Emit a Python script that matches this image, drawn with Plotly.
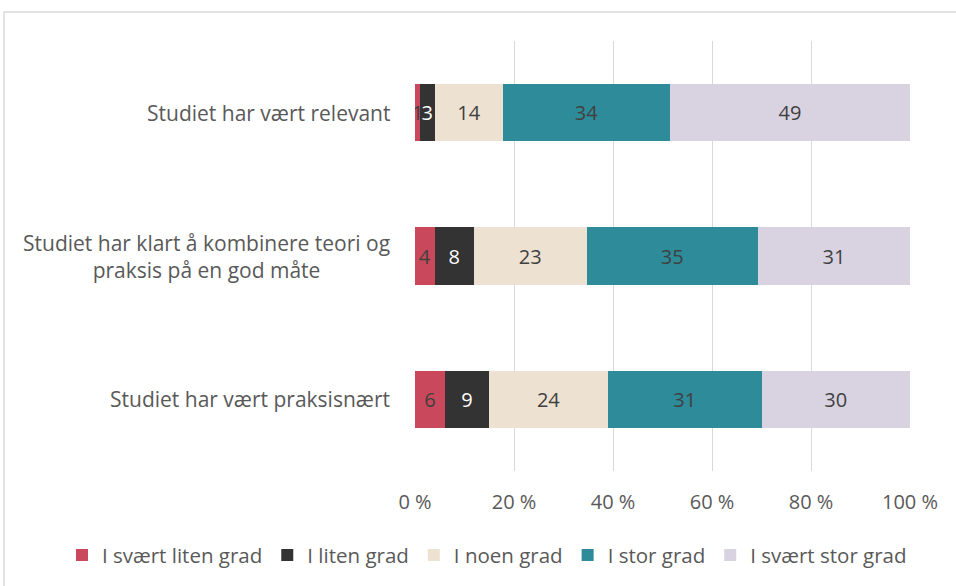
import plotly.graph_objects as go

categories = [
    "Studiet har vært relevant",
    "Studiet har klart å kombinere teori og<br>praksis på en god måte",
    "Studiet har vært praksisnært",
]
series_names = ["I svært liten grad", "I liten grad", "I noen grad", "I stor grad", "I svært stor grad"]
svaert_liten = [1, 4, 6]
liten = [3, 8, 9]
noen = [14, 23, 24]
stor = [34, 35, 31]
svaert_stor = [49, 31, 30]
tick_vals = [0, 20, 40, 60, 80, 100]
tick_text = ["0 %", "20 %", "40 %", "60 %", "80 %", "100 %"]

series_values = [svaert_liten, liten, noen, stor, svaert_stor]
colors = ["#C9485B", "#333333", "#EDE1D1", "#2E8B9A", "#D9D3E1"]
text_colors = ["#404040", "#FFFFFF", "#404040", "#404040", "#404040"]

FONT = "Open Sans"
FS = 20
fig = go.Figure()
for name, vals, col, tc in zip(series_names, series_values, colors, text_colors):
    fig.add_trace(go.Bar(
        y=categories, x=vals, name=name, orientation="h",
        marker=dict(color=col, line=dict(width=0)),
        width=0.4,
        text=[str(v) for v in vals], textposition="inside",
        insidetextanchor="middle", constraintext="none", textangle=0,
        textfont=dict(color=tc, size=FS, family=FONT),
        hoverinfo="skip",
    ))

fig.update_layout(
    barmode="stack", barnorm="percent",
    width=956, height=586,
    margin=dict(l=415, r=46, t=41, b=115, autoexpand=False),
    paper_bgcolor="white", plot_bgcolor="white",
    font=dict(family=FONT, size=FS, color="#595959"),
    showlegend=True,
    legend=dict(orientation="h", x=(62 - 415) / 495, xref="paper", xanchor="left",
                y=-84 / 429, yref="paper", yanchor="middle",
                font=dict(size=20.5, color="#595959"), itemwidth=30,
                traceorder="normal", tracegroupgap=0),
    xaxis=dict(range=[0, 100], tickvals=tick_vals, ticktext=tick_text,
               showgrid=True, gridcolor="#D9D9D9", gridwidth=1.3,
               zeroline=False, showline=False, ticklabelstandoff=17,
               tickfont=dict(size=FS, color="#595959")),
    yaxis=dict(categoryorder="array", categoryarray=categories[::-1],
               showticklabels=False, showgrid=False, zeroline=False, showline=False),
)

for c in categories:
    fig.add_annotation(x=0, xref="paper", y=c, yref="y", text=c, showarrow=False,
                       xanchor="right", yanchor="middle", align="center", xshift=-23,
                       font=dict(size=21, color="#595959", family=FONT))

# chart-area border
fig.add_shape(type="rect", xref="paper", yref="paper",
              x0=(4 - 415) / 495, x1=(1000 - 415) / 495,
              y0=(470 - 640) / 429, y1=(470 - 12) / 429,
              line=dict(color="#D9D9D9", width=1.5), fillcolor="rgba(0,0,0,0)", layer="below")

fig.write_html("out.html", config={"displayModeBar": False},
               post_script="document.body.style.margin='0';")
